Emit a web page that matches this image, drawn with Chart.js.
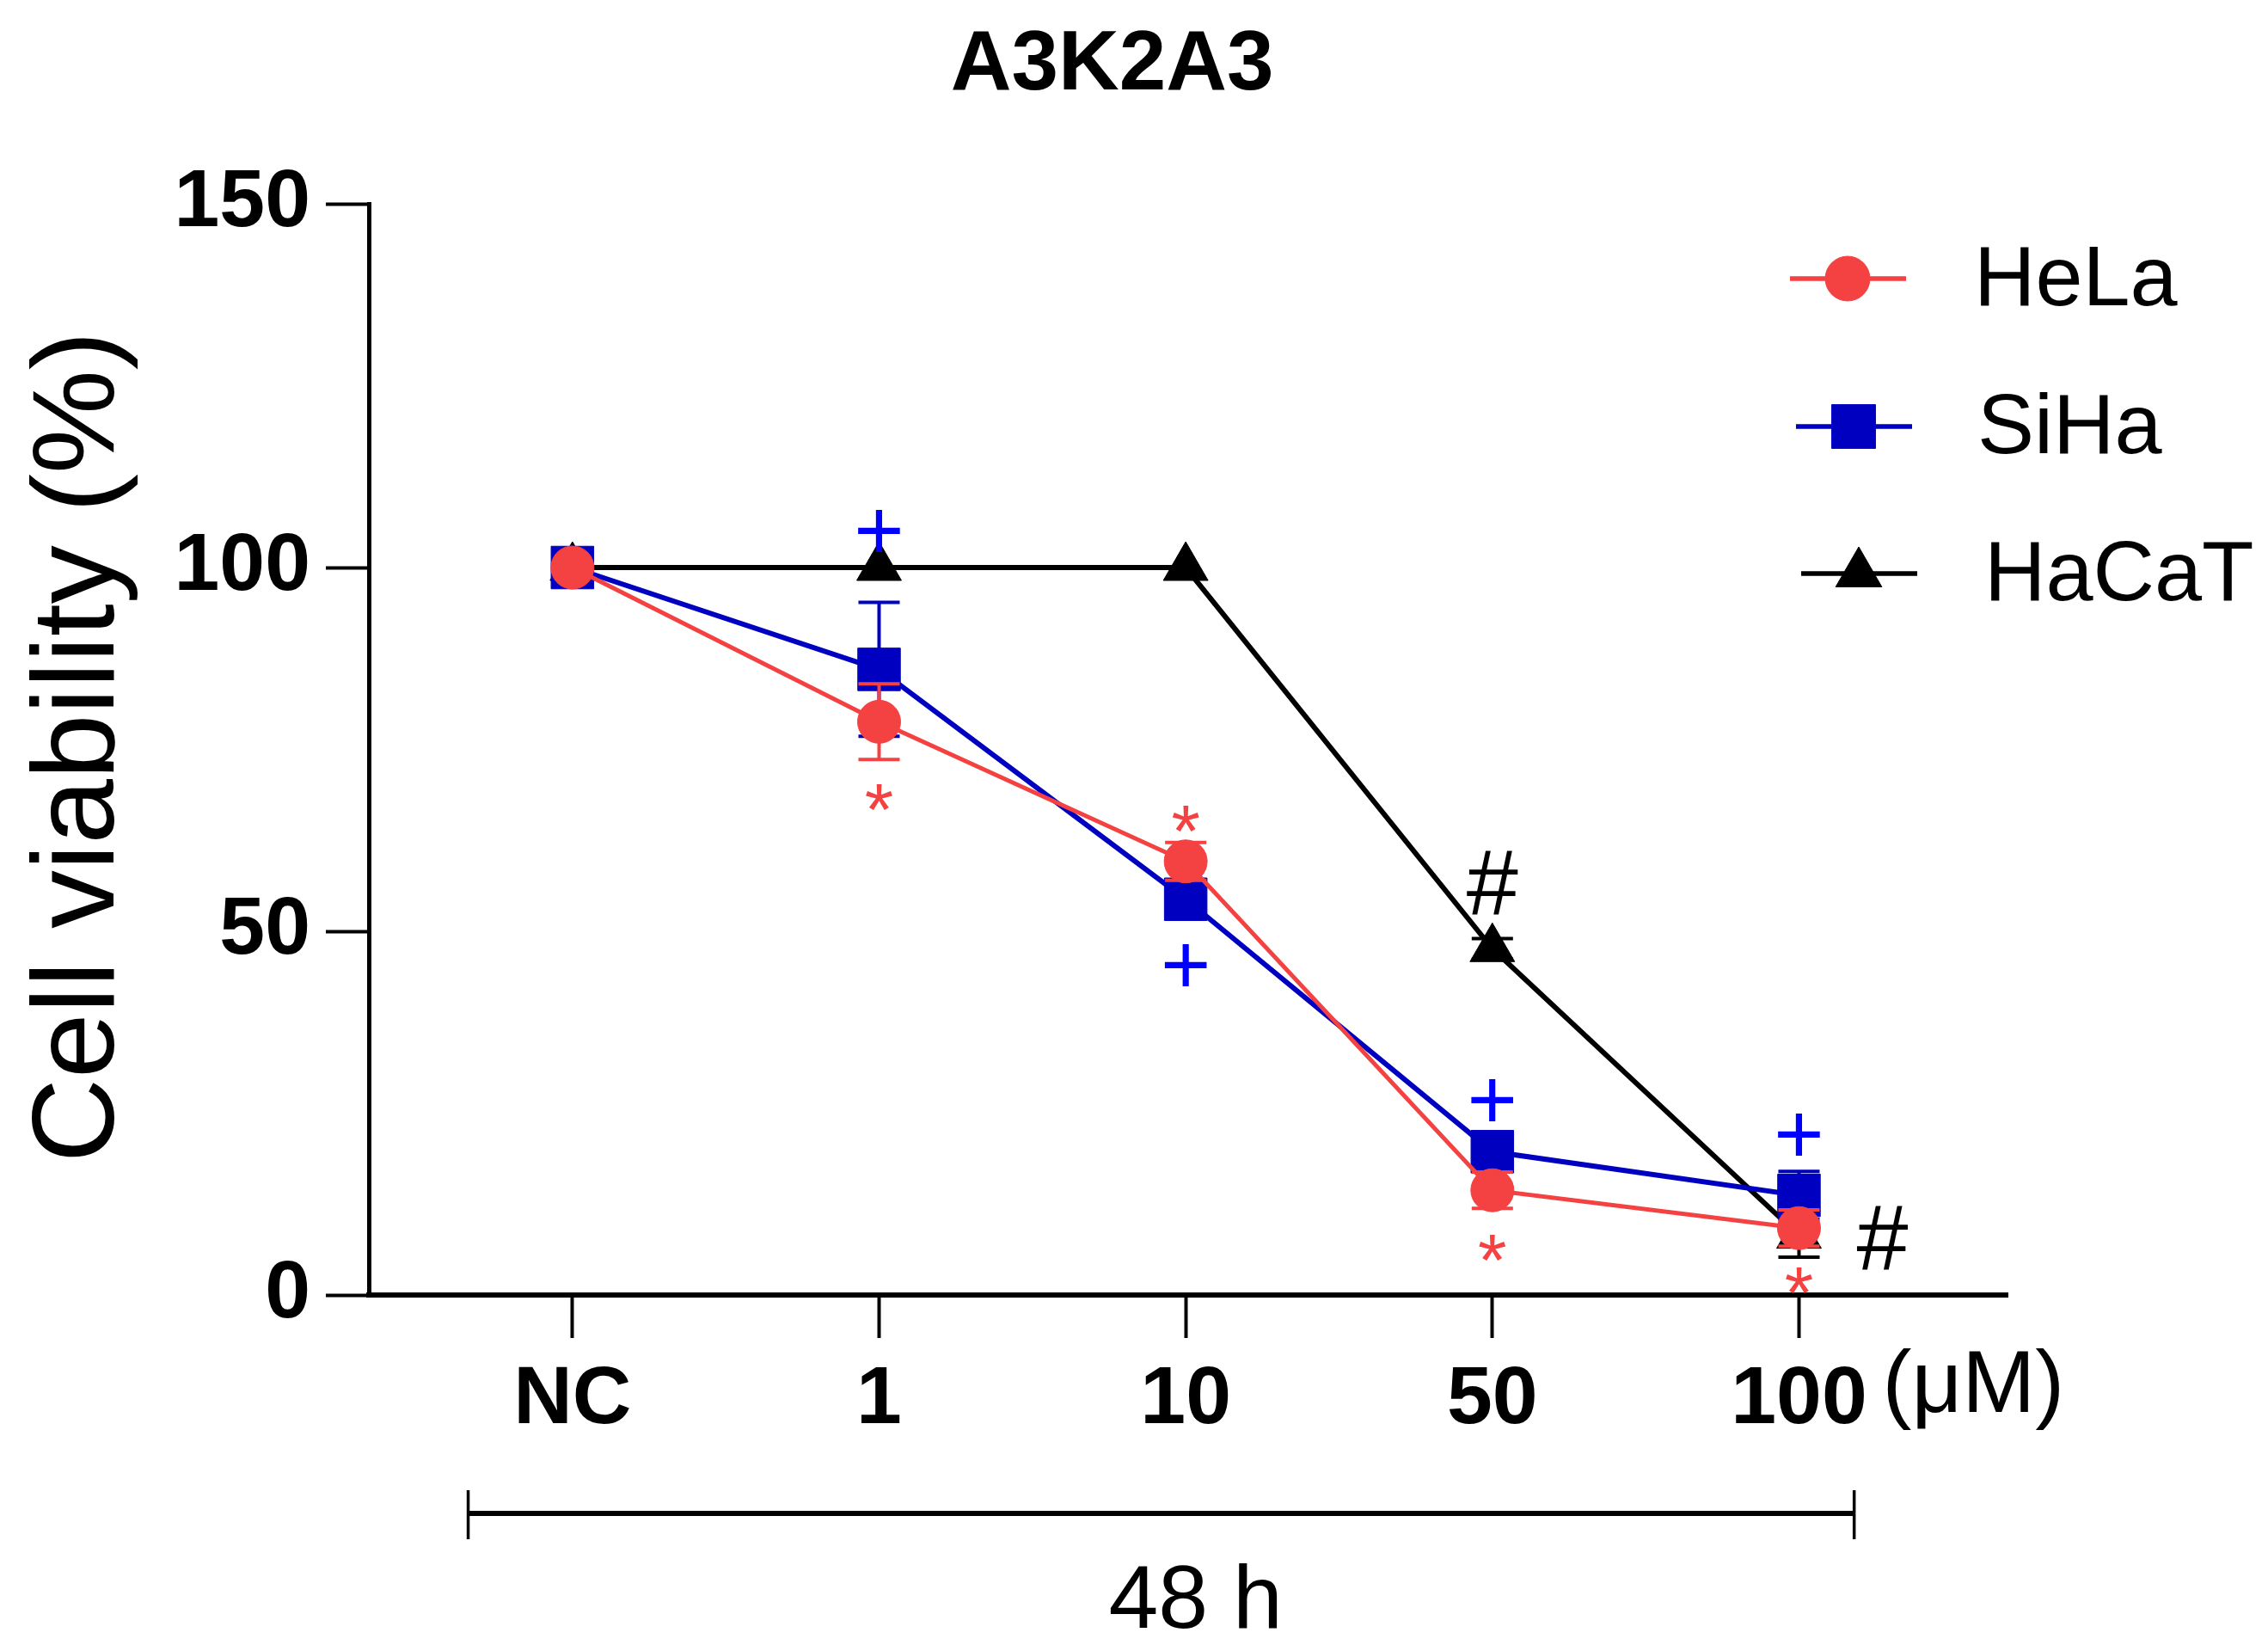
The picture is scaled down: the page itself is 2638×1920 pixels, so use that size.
<!DOCTYPE html>
<html>
<head>
<meta charset="utf-8">
<script src="https://cdn.jsdelivr.net/npm/chart.js@4/dist/chart.umd.min.js"></script>
<style>
html,body{margin:0;padding:0;background:#fff;}
canvas{display:block;}
</style>
</head>
<body>
<canvas id="c" width="2638" height="1920"></canvas>
<script>
// ---- data ----
const categories = ["NC", "1", "10", "50", "100"];
const seriesNames = ["HeLa", "SiHa", "HaCaT"];
const helaValues  = [100, 78.8, 59.6, 14.4, 9.2];
const helaErrors  = [0, 5.2, 2.6, 2.5, 2.5];
const sihaValues  = [100, 86.0, 54.4, 19.7, 13.7];
const sihaErrors  = [0, 9.2, 2.5, 2.5, 3.3];
const hacatValues = [100, 100, 100, 47.6, 8.2];
const hacatErrors = [0, 0, 0, 1.4, 3.0];
const yTicks = [0, 50, 100, 150];
const chartTitle = "A3K2A3";
const yTitle = "Cell viability (%)";
const unitLabel = "(\u03bcM)";
const timeLabel = "48 h";
// significance marks: [category index, value, symbol, series index]
const marks = [
  [1, 105.1, "+", 1], [1, 68.4, "*", 0],
  [2, 65.4, "*", 0], [2, 45.4, "+", 1],
  [3, 56.7, "#", 2], [3, 26.8, "+", 1], [3, 6.5, "*", 0],
  [4, 22.1, "+", 1], [4, 2.0, "*", 0], [4, 7.9, "#", 2]
];

const FONT = "'Liberation Sans', Arimo, Arial, sans-serif";
const colors = ["#F44141", "#0000C0", "#000000"];
const markColors = ["#F44141", "#0000FF", "#000000"];
const pointStyles = ["circle", "rect", "triangle"];
const pointRadii = [25, 35, 30];

function toXY(vals){ return vals.map((v,i)=>({x:i, y:v})); }
const allValues = [helaValues, sihaValues, hacatValues];
const allErrors = [helaErrors, sihaErrors, hacatErrors];

const datasets = seriesNames.map((n, i) => ({
  label: n,
  data: toXY(allValues[i]),
  borderColor: colors[i],
  backgroundColor: colors[i],
  borderWidth: i === 0 ? 5 : 6,
  pointStyle: pointStyles[i],
  pointRadius: pointRadii[i],
  pointHoverRadius: pointRadii[i],
  pointBackgroundColor: colors[i],
  pointBorderColor: colors[i],
  pointBorderWidth: 1,
  errors: allErrors[i],
  tension: 0
}));

const errorBarPlugin = {
  id: 'errorBars',
  beforeDatasetDraw(chart, args) {
    const ds = chart.data.datasets[args.index];
    const meta = chart.getDatasetMeta(args.index);
    const y = chart.scales.y;
    const ctx = chart.ctx;
    ctx.save();
    ctx.strokeStyle = ds.borderColor;
    ctx.lineWidth = 4;
    meta.data.forEach((pt, j) => {
      const e = ds.errors[j];
      if (!e) return;
      const v = ds.data[j].y;
      const yt = y.getPixelForValue(v + e), yb = y.getPixelForValue(v - e);
      const hw = 24;
      ctx.beginPath();
      ctx.moveTo(pt.x, yt); ctx.lineTo(pt.x, yb);
      ctx.moveTo(pt.x - hw, yt); ctx.lineTo(pt.x + hw, yt);
      ctx.moveTo(pt.x - hw, yb); ctx.lineTo(pt.x + hw, yb);
      ctx.stroke();
    });
    ctx.restore();
  }
};

function drawMarker(ctx, style, r, x, y, color) {
  ctx.save();
  ctx.fillStyle = color; ctx.strokeStyle = color; ctx.lineWidth = 1;
  ctx.beginPath();
  if (style === 'circle') {
    ctx.arc(x, y, r, 0, Math.PI * 2);
  } else if (style === 'rect') {
    const s = Math.SQRT1_2 * r;
    ctx.rect(x - s, y - s, 2 * s, 2 * s);
  } else {
    ctx.moveTo(x, y - r);
    ctx.lineTo(x + Math.sin(2 * Math.PI / 3) * r, y - Math.cos(2 * Math.PI / 3) * r);
    ctx.lineTo(x + Math.sin(4 * Math.PI / 3) * r, y - Math.cos(4 * Math.PI / 3) * r);
    ctx.closePath();
  }
  ctx.fill(); ctx.stroke();
  ctx.restore();
}

const decorPlugin = {
  id: 'decor',
  afterDraw(chart) {
    const ctx = chart.ctx;
    const xs = chart.scales.x, ys = chart.scales.y;
    const area = chart.chartArea;
    ctx.save();
    // title
    ctx.fillStyle = '#000';
    ctx.font = `bold 98px ${FONT}`;
    ctx.textAlign = 'center'; ctx.textBaseline = 'alphabetic';
    ctx.fillText(chartTitle, xs.getPixelForValue(1.76), 104);
    // y title
    ctx.save();
    ctx.translate(132, (area.top + area.bottom) / 2 - 3);
    ctx.rotate(-Math.PI / 2);
    ctx.font = `136px ${FONT}`;
    ctx.textAlign = 'center'; ctx.textBaseline = 'alphabetic';
    ctx.fillText(yTitle, 0, 0);
    ctx.restore();
    // unit label
    ctx.font = `102px ${FONT}`;
    ctx.textAlign = 'left'; ctx.textBaseline = 'middle';
    ctx.fillText(unitLabel, xs.getPixelForValue(categories.length - 1) + 97, 1614);
    // bracket
    const bl = xs.getPixelForValue(-0.34), br = xs.getPixelForValue(4.18);
    ctx.strokeStyle = '#000';
    ctx.lineWidth = 6;
    ctx.beginPath(); ctx.moveTo(bl, 1760); ctx.lineTo(br, 1760); ctx.stroke();
    ctx.lineWidth = 3.5;
    ctx.beginPath();
    ctx.moveTo(bl, 1733); ctx.lineTo(bl, 1790);
    ctx.moveTo(br, 1733); ctx.lineTo(br, 1790);
    ctx.stroke();
    ctx.font = `104px ${FONT}`;
    ctx.textAlign = 'center'; ctx.textBaseline = 'alphabetic';
    ctx.fillText(timeLabel, (bl + br) / 2 + 40, 1893);
    // significance marks
    marks.forEach(([ci, v, sym, si]) => {
      const size = sym === '*' ? 86 : (sym === '+' ? 100 : 108);
      ctx.font = `${size}px ${FONT}`;
      ctx.fillStyle = markColors[si];
      ctx.textAlign = 'center'; ctx.textBaseline = 'alphabetic';
      const m = ctx.measureText(sym);
      const gh = m.actualBoundingBoxAscent - m.actualBoundingBoxDescent;
      let x = xs.getPixelForValue(ci);
      if (sym === '#' && ci === categories.length - 1) x += 97;
      const y = ys.getPixelForValue(v) + gh / 2;
      ctx.fillText(sym, x, y);
    });
    // legend
    const legY = [324, 496, 667];
    const legX0 = [2082, 2089, 2095];
    const legTx = [2296, 2300, 2308];
    seriesNames.forEach((n, i) => {
      ctx.strokeStyle = colors[i];
      ctx.lineWidth = 5.5;
      ctx.beginPath(); ctx.moveTo(legX0[i], legY[i]); ctx.lineTo(legX0[i] + 135, legY[i]); ctx.stroke();
      drawMarker(ctx, pointStyles[i], pointRadii[i] + 1, legX0[i] + 67, legY[i], colors[i]);
      ctx.fillStyle = '#000';
      ctx.font = `99px ${FONT}`;
      ctx.textAlign = 'left'; ctx.textBaseline = 'middle';
      ctx.fillText(n, legTx[i], legY[i] + 4);
    });
    ctx.restore();
  }
};

const chart = new Chart(document.getElementById('c'), {
  type: 'line',
  data: { datasets },
  options: {
    responsive: false,
    devicePixelRatio: 1,
    animation: false,
    events: [],
    layout: { padding: { top: 237, right: 303, bottom: 200, left: 0 } },
    plugins: { legend: { display: false }, title: { display: false }, tooltip: { enabled: false } },
    scales: {
      x: {
        type: 'linear',
        min: -0.664,
        max: 4.68,
        afterBuildTicks(s) { s.ticks = categories.map((c, i) => ({ value: i })); },
        afterFit(s) { s.height = 214; },
        ticks: {
          callback: (v) => categories[v] !== undefined ? categories[v] : '',
          font: { family: FONT, size: 95, weight: 'bold' },
          color: '#000',
          padding: 16,
          maxRotation: 0,
          autoSkip: false
        },
        grid: { display: true, drawOnChartArea: false, drawTicks: true, tickLength: 50, tickWidth: 4, tickColor: '#000' },
        border: { display: true, color: '#000', width: 6 }
      },
      y: {
        min: 0,
        max: 150,
        afterBuildTicks(s) { s.ticks = yTicks.map(v => ({ value: v })); },
        afterFit(s) { s.width = 429; },
        ticks: {
          font: { family: FONT, size: 95, weight: 'bold' },
          color: '#000',
          padding: 18
        },
        grid: { display: true, drawOnChartArea: false, drawTicks: true, tickLength: 50, tickWidth: 4, tickColor: '#000' },
        border: { display: true, color: '#000', width: 5 }
      }
    }
  },
  plugins: [errorBarPlugin, decorPlugin]
});
</script>
</body>
</html>
